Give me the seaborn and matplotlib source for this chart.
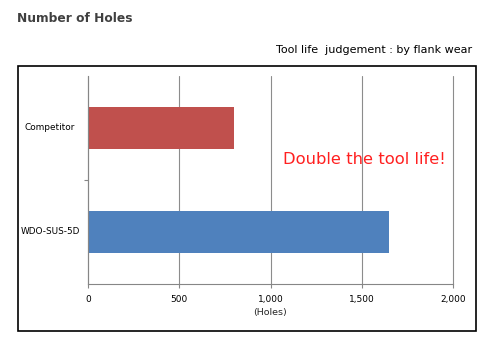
import matplotlib
matplotlib.use("Agg")
import matplotlib.pyplot as plt
import seaborn as sns
import pandas as pd
from matplotlib.patches import Rectangle
from matplotlib.ticker import FuncFormatter

categories = ["Competitor", "WDO-SUS-5D"]
holes = [800, 1650]
bar_colors = ["#C0504D", "#4F81BD"]
x_ticks = [0, 500, 1000, 1500, 2000]

sns.set_theme(style="white")
plt.rcParams['font.family'] = ['DejaVu Sans']

df = pd.DataFrame({"category": categories, "holes": holes})

fig = plt.figure(figsize=(4.95, 3.55), dpi=100)
ax = fig.add_axes([88/495, 1 - 284/355, (453-88)/495, (284-76)/355])

sns.barplot(data=df, y="category", x="holes", hue="category", order=categories,
            palette=bar_colors, orient="h", width=0.4, legend=False, ax=ax,
            saturation=1, linewidth=0)

ax.set_xlim(0, 2000)
ax.set_ylim(1.5, -0.5)
ax.set_xticks(x_ticks)
ax.xaxis.set_major_formatter(FuncFormatter(lambda v, p: f"{int(v):,}"))
ax.tick_params(axis="x", labelsize=6.5, pad=2, labelcolor="black")
for t in ax.xaxis.get_major_ticks():
    t.tick1line.set_visible(True)
    t.tick1line.set_marker(3)  # TICKDOWN
    t.tick1line.set_markersize(3)
    t.tick1line.set_markeredgewidth(0.8)
    t.tick1line.set_color("#868686")
    t.tick1line.set_markeredgecolor("#868686")

ax.set_yticks([0, 1])
ax.set_yticklabels([])
ax.tick_params(axis="y", which="major", length=0)
ax.set_yticks([0.5], minor=True)
ax.tick_params(axis="y", which="minor", left=True, length=3, width=0.8,
               color="#868686", direction="out")
for yi, lab in enumerate(categories):
    ax.text(-0.104, yi, lab, transform=ax.get_yaxis_transform(), fontsize=6.4,
            ha="center", va="center", color="black")

ax.grid(axis="x", color="#8C8C8C", linewidth=0.8)
for gl in ax.get_xgridlines():
    gl.set_clip_on(False)
ax.set_axisbelow(True)
for s in ["top", "right"]:
    ax.spines[s].set_visible(False)
for s in ["left", "bottom"]:
    ax.spines[s].set_color("#868686")
    ax.spines[s].set_linewidth(0.8)
ax.set_ylabel("")
ax.set_xlabel("(Holes)", fontsize=6.8, labelpad=3)

ax.text(0.535, 0.6, "Double the tool life!", transform=ax.transAxes, color="#FF2020",
        fontsize=11.8, ha="left", va="center")

fig.text(17/495, 1 - 19/355, "Number of Holes", fontsize=8.8, fontweight="bold",
         color="#404040", ha="left", va="center")
fig.text(472/495, 1 - 50/355, "Tool life  judgement : by flank wear", fontsize=8,
         color="black", ha="right", va="center")

fig.patches.append(Rectangle((18/495, 1 - 331/355), (476-18)/495, (331-66)/355,
                             transform=fig.transFigure, fill=False,
                             edgecolor="black", linewidth=1.2))

fig.savefig("out.png", dpi=100, facecolor="white")
